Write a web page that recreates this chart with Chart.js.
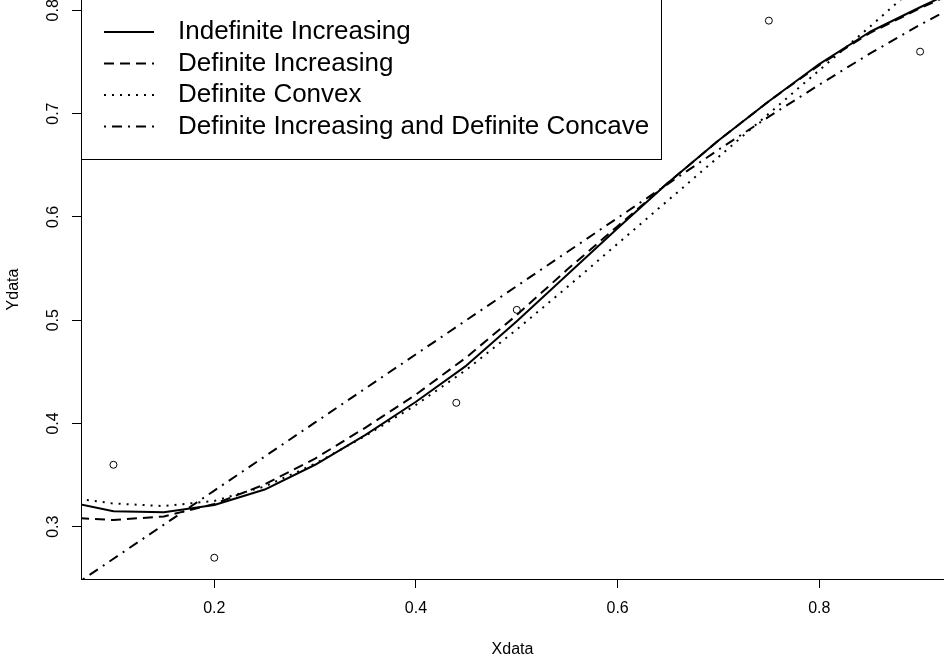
<!DOCTYPE html>
<html>
<head>
<meta charset="utf-8">
<script src="https://cdn.jsdelivr.net/npm/chart.js@4"></script>
<style>
  html, body { margin: 0; padding: 0; background: #fff; }
  canvas { display: block; }
</style>
</head>
<body>
<canvas id="fit" width="944" height="660"></canvas>
<script>
// fitted curves, evaluated on a 0.05 grid
const xGrid = [0.05, 0.10, 0.15, 0.20, 0.25, 0.30, 0.35, 0.40, 0.45, 0.50,
               0.55, 0.60, 0.65, 0.70, 0.75, 0.80, 0.85, 0.90, 0.95];
const indefIncreasing = [0.325, 0.315, 0.314, 0.321, 0.336, 0.360, 0.389, 0.421, 0.456, 0.499,
                         0.544, 0.589, 0.633, 0.674, 0.712, 0.748, 0.779, 0.803, 0.826];
const defIncreasing   = [0.309, 0.3065, 0.310, 0.322, 0.341, 0.366, 0.396, 0.428, 0.464, 0.505,
                         0.549, 0.591, 0.633, 0.674, 0.712, 0.747, 0.778, 0.802, 0.824];
const defConvex       = [0.329, 0.3225, 0.320, 0.325, 0.339, 0.361, 0.388, 0.418, 0.452, 0.491,
                         0.532, 0.574, 0.616, 0.658, 0.700, 0.742, 0.784, 0.827, 0.871];
const defIncConcave   = [0.236, 0.269, 0.302, 0.335, 0.368, 0.401, 0.434, 0.467, 0.500, 0.533,
                         0.566, 0.599, 0.632, 0.665, 0.697, 0.728, 0.758, 0.786, 0.812];

// observations
const xObs = [0.10, 0.20, 0.44, 0.50, 0.75, 0.90];
const yObs = [0.36, 0.27, 0.42, 0.51, 0.79, 0.76];

const seriesNames = ['Indefinite Increasing', 'Definite Increasing', 'Definite Convex',
                     'Definite Increasing and Definite Concave'];
const xTicks = [0.2, 0.4, 0.6, 0.8];
const yTicks = [0.3, 0.4, 0.5, 0.6, 0.7, 0.8];

const FONT = '"Liberation Sans", Arial, Helvetica, sans-serif';
Chart.defaults.font.family = FONT;
Chart.defaults.color = '#000';

function curve(label, ys, dash) {
  return {
    label: label,
    data: xGrid.map((x, i) => ({ x: x, y: ys[i] })),
    showLine: true,
    borderColor: '#000',
    borderWidth: 2,
    borderDash: dash,
    borderCapStyle: 'butt',
    borderJoinStyle: 'round',
    pointRadius: 0,
    pointHoverRadius: 0,
    fill: false,
    tension: 0,
    clip: 0
  };
}

// y tick labels are drawn rotated, reading upwards
const yTickLabels = {
  id: 'yTickLabels',
  afterDraw(chart) {
    const s = chart.scales.y, ctx = chart.ctx;
    ctx.save();
    ctx.font = '16px ' + FONT;
    ctx.fillStyle = '#000';
    ctx.textAlign = 'center';
    ctx.textBaseline = 'middle';
    s.ticks.forEach(t => {
      ctx.save();
      ctx.translate(53.5, s.getPixelForValue(t.value));
      ctx.rotate(-Math.PI / 2);
      ctx.fillText(t.value.toFixed(1), 0, 0);
      ctx.restore();
    });
    ctx.restore();
  }
};

// boxed legend in the top-left corner with line samples
const legendBox = {
  id: 'legendBox',
  afterDatasetsDraw(chart) {
    const ctx = chart.ctx, area = chart.chartArea;
    const left = area.left + 0.5, right = 661.5, top = area.top - 2, bottom = 159.5;
    ctx.save();
    ctx.fillStyle = '#fff';
    ctx.fillRect(left, top, right - left, bottom - top);
    ctx.strokeStyle = '#000';
    ctx.lineWidth = 1;
    ctx.strokeRect(left, top, right - left, bottom - top);
    ctx.font = '26px ' + FONT;
    ctx.textAlign = 'left';
    ctx.textBaseline = 'middle';
    chart.data.datasets.slice(0, 4).forEach((ds, i) => {
      const y = 32 + i * 31.5;
      ctx.beginPath();
      ctx.setLineDash(ds.borderDash);
      ctx.lineCap = ds.borderCapStyle;
      ctx.lineWidth = ds.borderWidth;
      ctx.moveTo(104, y);
      ctx.lineTo(154, y);
      ctx.stroke();
      ctx.setLineDash([]);
      ctx.fillStyle = '#000';
      ctx.fillText(ds.label, 178, y);
    });
    ctx.restore();
  }
};

new Chart(document.getElementById('fit'), {
  type: 'scatter',
  data: {
    datasets: [
      curve(seriesNames[0], indefIncreasing, []),
      curve(seriesNames[1], defIncreasing, [10, 6]),
      curve(seriesNames[2], defConvex, [2, 6]),
      curve(seriesNames[3], defIncConcave, [2, 6, 10, 6]),
      {
        label: 'data',
        data: xObs.map((x, i) => ({ x: x, y: yObs[i] })),
        showLine: false,
        pointStyle: 'circle',
        pointRadius: 3.5,
        pointHoverRadius: 3.5,
        pointBorderWidth: 1,
        pointBorderColor: '#000',
        pointBackgroundColor: 'rgba(0,0,0,0)'
      }
    ]
  },
  options: {
    responsive: false,
    animation: false,
    devicePixelRatio: 1,
    events: [],
    layout: { padding: 0, autoPadding: false },
    plugins: { legend: { display: false }, tooltip: { enabled: false } },
    scales: {
      x: {
        type: 'linear',
        bounds: 'data',
        min: 0.0678,
        max: 0.9237,
        afterBuildTicks: s => { s.ticks = xTicks.map(v => ({ value: v })); },
        afterFit: s => { s.height = 81; },
        ticks: { font: { size: 16 }, color: '#000', padding: 11, maxRotation: 0, autoSkip: false,
                 callback: v => v.toFixed(1) },
        grid: { drawOnChartArea: false, drawTicks: true, tickLength: 9, color: '#000', tickWidth: 1 },
        border: { display: true, color: '#000', width: 1 },
        title: { display: true, text: 'Xdata', font: { size: 16 }, color: '#000', padding: { top: 0, bottom: 1 } }
      },
      y: {
        type: 'linear',
        bounds: 'data',
        min: 0.2494,
        max: 0.8100,
        afterBuildTicks: s => { s.ticks = yTicks.map(v => ({ value: v })); },
        afterFit: s => { s.width = 81; },
        ticks: { display: false },
        grid: { drawOnChartArea: false, drawTicks: true, tickLength: 9, color: '#000', tickWidth: 1 },
        border: { display: true, color: '#000', width: 1 },
        title: { display: true, text: 'Ydata', font: { size: 16 }, color: '#000', padding: { top: 4, bottom: 0 } }
      }
    }
  },
  plugins: [legendBox, yTickLabels]
});
</script>
</body>
</html>
